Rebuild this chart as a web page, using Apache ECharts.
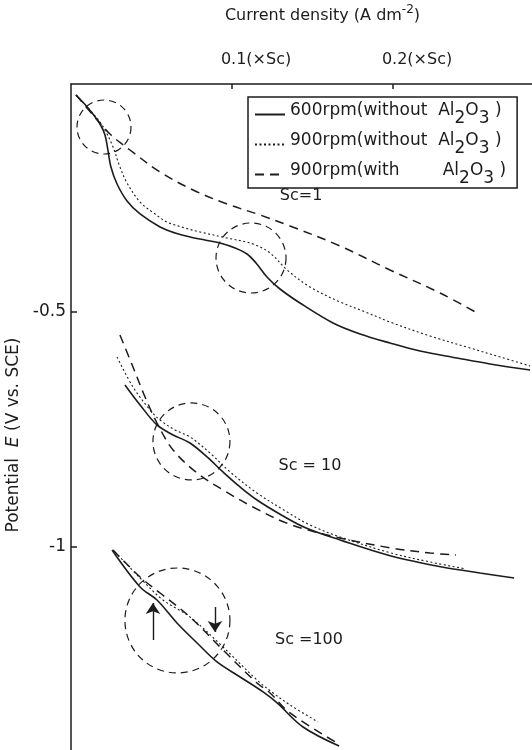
<!DOCTYPE html>
<html>
<head>
<meta charset="utf-8">
<script src="https://cdn.jsdelivr.net/npm/echarts@6/dist/echarts.min.js"></script>
<style>html,body{margin:0;padding:0;background:#fff}#c{width:532px;height:750px}</style>
</head>
<body>
<div id="c"></div>
<script>
// ---- data (current density in A dm^-2 scaled by Sc, potential in V vs SCE) ----
const seriesNames = ['600rpm(without Al2O3)', '900rpm(without Al2O3)', '900rpm(with Al2O3)'];
const xTickValues = [0.1, 0.2];
const yTickValues = [-0.5, -1];
const xRange = [0, 0.2863];
const yRange = [-1.432, -0.0149];

const sc1_600 = [[0.0031,-0.0383],[0.0106,-0.0660],[0.0180,-0.1000],[0.0211,-0.1234],[0.0230,-0.1574],[0.0248,-0.1915],[0.0286,-0.2277],[0.0348,-0.2638],[0.0429,-0.2915],[0.0553,-0.3191],[0.0646,-0.3319],[0.0739,-0.3404],[0.0832,-0.3468],[0.0925,-0.3532],[0.1019,-0.3638],[0.1093,-0.3766],[0.1149,-0.3957],[0.1217,-0.4255],[0.1298,-0.4511],[0.1422,-0.4809],[0.1627,-0.5234],[0.1795,-0.5468],[0.1981,-0.5660],[0.2168,-0.5830],[0.2398,-0.5979],[0.2602,-0.6106],[0.2851,-0.6234]];
const sc1_900 = [[0.0031,-0.0383],[0.0106,-0.0660],[0.0180,-0.0957],[0.0217,-0.1170],[0.0261,-0.1489],[0.0304,-0.1915],[0.0348,-0.2255],[0.0429,-0.2660],[0.0522,-0.2915],[0.0596,-0.3085],[0.0708,-0.3213],[0.0801,-0.3298],[0.0969,-0.3426],[0.1130,-0.3553],[0.1236,-0.3745],[0.1342,-0.4106],[0.1484,-0.4468],[0.1671,-0.4787],[0.1814,-0.4979],[0.1981,-0.5213],[0.2230,-0.5511],[0.2478,-0.5766],[0.2665,-0.5957],[0.2851,-0.6149]];
const sc1_900al = [[0.0031,-0.0383],[0.0137,-0.0809],[0.0242,-0.1213],[0.0366,-0.1553],[0.0553,-0.2021],[0.0758,-0.2404],[0.0969,-0.2702],[0.1174,-0.2936],[0.1360,-0.3170],[0.1671,-0.3596],[0.1981,-0.4106],[0.2292,-0.4596],[0.2522,-0.5021]];

const sc10_600 = [[0.0335,-0.6553],[0.0429,-0.6979],[0.0534,-0.7404],[0.0634,-0.7617],[0.0739,-0.7787],[0.0845,-0.8085],[0.0944,-0.8404],[0.1050,-0.8723],[0.1155,-0.9000],[0.1317,-0.9340],[0.1460,-0.9596],[0.1671,-0.9851],[0.1988,-1.0191],[0.2304,-1.0426],[0.2540,-1.0553],[0.2752,-1.0660]];
const sc10_900 = [[0.0286,-0.5957],[0.0385,-0.6596],[0.0491,-0.7085],[0.0553,-0.7298],[0.0646,-0.7511],[0.0739,-0.7660],[0.0863,-0.8000],[0.0988,-0.8404],[0.1155,-0.8851],[0.1342,-0.9255],[0.1484,-0.9532],[0.1671,-0.9787],[0.1988,-1.0128],[0.2230,-1.0319],[0.2453,-1.0468]];
const sc10_900al = [[0.0304,-0.5489],[0.0385,-0.6170],[0.0460,-0.6809],[0.0534,-0.7362],[0.0634,-0.7936],[0.0783,-0.8426],[0.0944,-0.8787],[0.1130,-0.9149],[0.1354,-0.9511],[0.1671,-0.9809],[0.1988,-1.0021],[0.2230,-1.0128],[0.2391,-1.0170]];

const sc100_600 = [[0.0255,-1.0064],[0.0429,-1.0851],[0.0534,-1.1128],[0.0658,-1.1617],[0.0783,-1.2043],[0.0907,-1.2447],[0.1050,-1.2766],[0.1193,-1.3085],[0.1280,-1.3319],[0.1441,-1.3830],[0.1665,-1.4234]];
const sc100_900 = [[0.0273,-1.0106],[0.0429,-1.0660],[0.0571,-1.1128],[0.0739,-1.1489],[0.0944,-1.2128],[0.1155,-1.2830],[0.1255,-1.3106],[0.1360,-1.3362],[0.1534,-1.3723]];
const sc100_900al = [[0.0261,-1.0064],[0.0429,-1.0638],[0.0553,-1.0979],[0.0739,-1.1489],[0.0944,-1.2191],[0.1155,-1.2894],[0.1236,-1.3106],[0.1360,-1.3532],[0.1652,-1.4170]];

// dashed annotation circles: [x, y, diameter]
const circles = [[0.0205,-0.1064,54],[0.1118,-0.3851,70],[0.0748,-0.7755,77],[0.0661,-1.1564,105]];
// arrows: [x, yFrom, yTo]
const arrows = [[0.0509,-1.1979,-1.1191],[0.0894,-1.1277,-1.1809]];
// group labels
const scLabels = [['Sc=1',0.1429,-0.2532],['Sc = 10',0.1484,-0.8277],['Sc =100',0.1478,-1.1979]];

// ---- chart ----
const FONT = 'DejaVu Sans';
const INK = '#1c1c1c';
const styles = [
  {type:'solid', width:1.6},
  {type:[2,2.5], width:1.1},
  {type:[9,6], width:1.5}
];
const groups = [[sc1_600, sc1_900, sc1_900al],[sc10_600, sc10_900, sc10_900al],[sc100_600, sc100_900, sc100_900al]];

const series = [];
groups.forEach(g => g.forEach((d, i) => {
  series.push({
    type:'line', name: seriesNames[i], data: d, smooth: 0.35, symbol:'none', showSymbol:false,
    lineStyle: {color: INK, width: styles[i].width, type: styles[i].type, opacity: 1},
    itemStyle: {color: INK}, z: 3, silent: true
  });
}));
series.push({
  type:'scatter', name:'circles', symbol:'circle',
  data: circles.map(c => ({value:[c[0], c[1]], symbolSize: c[2]})),
  itemStyle: {color:'rgba(0,0,0,0)', borderColor: INK, borderWidth: 1.2, borderType:[7,5], opacity: 1},
  silent: true, z: 2
});
series.push({
  type:'lines', coordinateSystem:'cartesian2d', name:'arrows',
  data: arrows.map(a => ({coords:[[a[0],a[1]],[a[0],a[2]]]})),
  symbol:['none','arrow'], symbolSize:[0,11],
  lineStyle:{color: INK, width:1.4, type:'solid', opacity: 1}, silent:true, z: 4
});
series.push({
  type:'scatter', name:'labels', symbolSize: 0,
  data: scLabels.map(l => ({name: l[0], value:[l[1], l[2]]})),
  itemStyle: {opacity: 1},
  label: {show:true, position:'inside', formatter: p => p.name, color: INK, fontFamily: FONT, fontSize: 16, opacity: 1},
  silent: true, z: 5
});

const option = {
  animation: false,
  backgroundColor: '#fff',
  grid: {left: 71, right: 0, top: 84, bottom: 0, containLabel: false, outerBoundsMode: 'none'},
  legend: {
    data: seriesNames, orient:'vertical', left: 248, top: 97,
    padding: [5, 11, 1, 6], itemGap: 5, itemWidth: 30, itemHeight: 12,
    borderColor: INK, borderWidth: 1.5, backgroundColor:'#fff',
    selectedMode: false,
    itemStyle: {opacity: 0},
    formatter: name => {
      let pre = name.split(' Al2O3')[0];
      if (pre.indexOf('(with') >= 0 && pre.indexOf('without') < 0) pre = pre + '        ';
      else pre = pre + '  ';
      return '{m|' + pre + 'Al}{s|2}{m|O}{s|3}{m| )}';
    },
    textStyle: {fontFamily: FONT, fontSize: 17, color: INK, lineHeight: 25, rich: {
      m: {fontFamily: FONT, fontSize: 17, color: INK, verticalAlign:'top', lineHeight: 18},
      s: {fontFamily: FONT, fontSize: 17, color: INK, verticalAlign:'bottom', lineHeight: 25}
    }}
  },
  xAxis: {
    type:'value', position:'top', min: xRange[0], max: xRange[1],
    name: '{t|Current density (A dm}{sup|-2}{t|)}', nameLocation:'middle', nameGap: 60,
    nameTextStyle: {padding:[0,0,0,42], rich: {
      t: {fontFamily: FONT, fontSize: 16, color: INK, verticalAlign:'bottom', lineHeight: 20},
      sup: {fontFamily: FONT, fontSize: 12, color: INK, verticalAlign:'top', lineHeight: 20, padding:[0,0,6,0]}
    }},
    axisLine: {show:true, onZero:false, lineStyle:{color: INK, width:1.5}},
    axisTick: {show:true, inside:true, length:5, customValues: xTickValues, lineStyle:{color: INK, width:1.5}},
    axisLabel: {show:true, customValues: xTickValues, formatter: v => v + '(×Sc)', margin: 16,
      fontFamily: FONT, fontSize: 16, color: INK, align:'center', padding:[0,0,0,48]},
    splitLine: {show:false}
  },
  yAxis: {
    type:'value', min: yRange[0], max: yRange[1],
    name: '{t|Potential  }{i|E}{t| (V vs. SCE)}', nameLocation:'middle', nameRotate: 90, nameGap: 44,
    nameTextStyle: {padding:[0,36,0,0], rich: {
      t: {fontFamily: FONT, fontSize: 17, color: INK},
      i: {fontFamily: FONT, fontSize: 17, color: INK, fontStyle:'italic'}
    }},
    axisLine: {show:true, onZero:false, lineStyle:{color: INK, width:1.5}},
    axisTick: {show:true, inside:true, length:6, customValues: yTickValues, lineStyle:{color: INK, width:1.5}},
    axisLabel: {show:true, customValues: yTickValues, margin: 5, fontFamily: FONT, fontSize: 17, color: INK},
    splitLine: {show:false}
  },
  series: series
};

const chart = echarts.init(document.getElementById('c'), null, {renderer:'canvas'});
chart.setOption(option);
</script>
</body>
</html>
